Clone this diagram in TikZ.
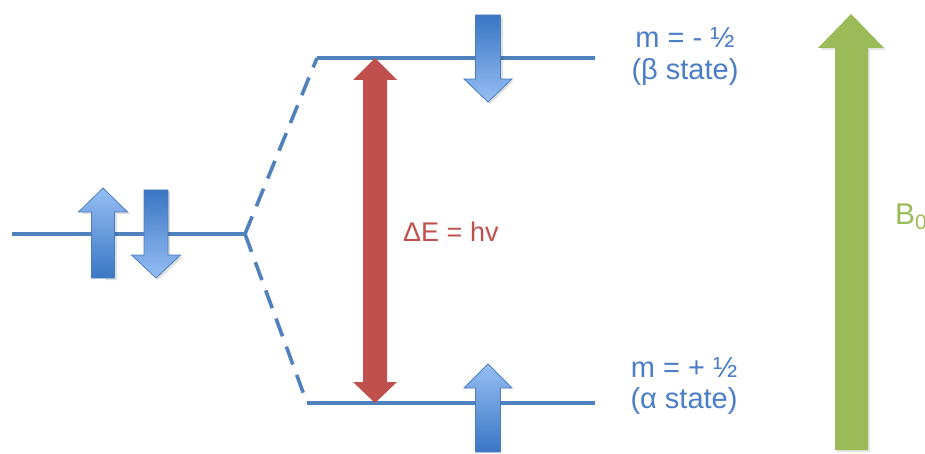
\documentclass[tikz,border=0pt]{standalone}
\usepackage{fontspec}
\setmainfont{Liberation Sans}
\begin{document}
\begin{tikzpicture}[x=1pt,y=-1pt,
  level/.style={draw=lvlblue,line width=3.6pt},
  dashlevel/.style={draw=lvlblue,line width=3.6pt,dash pattern=on 19pt off 11pt},
  bluearrow/.style={draw=arrowline,line width=0.8pt,line join=miter},
  shadowst/.style={fill=black,opacity=0.12},
  bluetext/.style={text=txtblue,inner sep=0pt,anchor=base,font=\fontsize{29}{34}\selectfont},
  redtext/.style={text=redarrow,inner sep=0pt,anchor=west,font=\fontsize{27}{32}\selectfont},
  greentext/.style={text=greenarrow,inner sep=0pt,anchor=base west,font=\fontsize{30}{34}\selectfont}
]
\definecolor{lvlblue}{HTML}{4F81BD}
\definecolor{txtblue}{HTML}{4A7EC8}
\definecolor{darkb}{HTML}{3B76C4}
\definecolor{lightb}{HTML}{95BEF3}
\definecolor{arrowline}{HTML}{4A7EBB}
\definecolor{redarrow}{HTML}{C0504D}
\definecolor{greenarrow}{HTML}{9BBB59}

\useasboundingbox (0,0) rectangle (925,454);
\fill[white] (0,0) rectangle (925,454);

% level coordinates
\coordinate (l0s) at (12,234);
\coordinate (l0e) at (245,234);
\coordinate (uS) at (317,58);
\coordinate (uE) at (595,58);
\coordinate (dS) at (307,403);
\coordinate (dE) at (595,403);

\draw[level] (l0s) -- (l0e);
\draw[level] (uS) -- (uE);
\draw[level] (dS) -- (dE);
\draw[dashlevel] (l0e) -- (uS);
\draw[dashlevel] (l0e) -- (dS);

% left up arrow (center 103)
\fill[shadowst] (105.5,280) -- (105.5,214) -- (81,214) -- (105,190) -- (130,214) -- (117,214) -- (117,280) -- cycle;
\shade[top color=lightb,bottom color=darkb,bluearrow]
  (91.5,278) -- (91.5,212) -- (78.5,212) -- (103,188) -- (127.5,212) -- (114.5,212) -- (114.5,278) -- cycle;
% left down arrow (center 156)
\fill[shadowst] (146,192) -- (170,192) -- (170,257) -- (183,257) -- (158,280) -- (134,257) -- (146,257) -- cycle;
\shade[top color=darkb,bottom color=lightb,bluearrow]
  (144,190) -- (168,190) -- (168,255) -- (180.5,255) -- (156,278) -- (131.5,255) -- (144,255) -- cycle;
% right down arrow (center 488)
\fill[shadowst] (478,17) -- (503,17) -- (503,81) -- (514,81) -- (490,104) -- (466,81) -- (478,81) -- cycle;
\shade[top color=darkb,bottom color=lightb,bluearrow]
  (475.5,15) -- (500.5,15) -- (500.5,79) -- (512,79) -- (488,102) -- (464,79) -- (475.5,79) -- cycle;
% right up arrow (center 488)
\shade[top color=lightb,bottom color=darkb,bluearrow]
  (475.5,452) -- (475.5,388) -- (464,388) -- (488,364) -- (512,388) -- (500.5,388) -- (500.5,452) -- cycle;

% red double arrow
\fill[redarrow] (375,58) -- (397,80) -- (387,80) -- (387,382) -- (397,382) -- (375,403)
  -- (353,382) -- (363,382) -- (363,80) -- (353,80) -- cycle;

% green arrow
\fill[black,opacity=0.1] (853,16) -- (886,50) -- (870,50) -- (870,452) -- (837,452) -- (837,50) -- (820,50) -- cycle;
\fill[greenarrow] (851,14) -- (884,48) -- (868,48) -- (868,450) -- (835,450) -- (835,48) -- (818,48) -- cycle;

% texts
\node[bluetext] (t1) at (685,48) {m = - ½};
\node[bluetext] (t2) at (685,80) {(β state)};
\node[bluetext] (t3) at (684,377) {m = + ½};
\node[bluetext] (t4) at (684,408) {(α state)};
\node[redtext] (de) at (403,232) {ΔE = hv};
\node[greentext] (b0) at (895,225) {B\raisebox{-5pt}{\fontsize{21}{21}\selectfont 0}};
\end{tikzpicture}
\end{document}
